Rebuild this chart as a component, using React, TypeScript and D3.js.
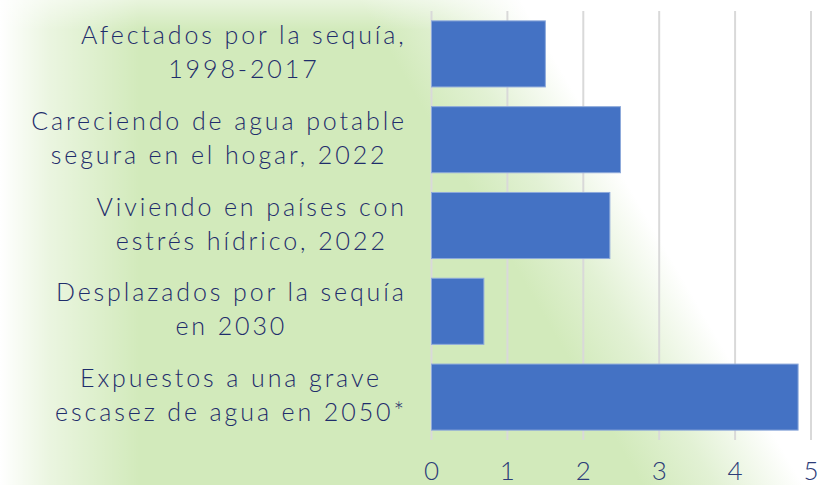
import React from "react";
import * as d3 from "d3";

const categories: string[][] = [
  ["Afectados por la sequía,", "1998-2017"],
  ["Careciendo de agua potable", "segura en el hogar, 2022"],
  ["Viviendo en países con", "estrés hídrico, 2022"],
  ["Desplazados por la sequía", "en 2030"],
  ["Expuestos a una grave", "escasez de agua en 2050*"],
];
const values: number[] = [1.5, 2.49, 2.35, 0.69, 4.83];
const ticks: number[] = [0, 1, 2, 3, 4, 5];

const W = 822;
const H = 485;
const FONT = "Lato, 'Open Sans', sans-serif";
const FS = 25;
const FW = 300;
const LS = 2.9;

function measure(text: string): number {
  if (typeof document === "undefined") return text.length * 14;
  const c = document.createElement("canvas");
  const ctx = c.getContext("2d")!;
  ctx.font = `${FW} ${FS}px Lato`;
  return ctx.measureText(text).width + LS * text.length;
}

export default function App() {
  const x = d3.scaleLinear().domain([0, 5]).range([431.5, 811]);
  const keys = categories.map((_, i) => String(i));
  const y = d3.scaleBand<string>().domain(keys).range([11, 440]).paddingInner(0.23).paddingOuter(0.115);
  const labelRight = 407;
  const lineH = 34;

  return (
    <svg width={W} height={H} style={{ position: "absolute", left: 0, top: 0 }}>
      <defs>
        <linearGradient id="diag" gradientUnits="userSpaceOnUse" x1={520} y1={275} x2={640} y2={205}>
          <stop offset="0" stopColor="#d2eabb" />
          <stop offset="0.45" stopColor="#e2f1d4" />
          <stop offset="1" stopColor="#ffffff" />
        </linearGradient>
        <linearGradient id="leftg" x1={0} y1={0} x2={140} y2={0} gradientUnits="userSpaceOnUse">
          <stop offset="0" stopColor="#ffffff" stopOpacity="1" />
          <stop offset="0.35" stopColor="#ffffff" stopOpacity="0.55" />
          <stop offset="1" stopColor="#ffffff" stopOpacity="0" />
        </linearGradient>
        <linearGradient id="topg" x1={0} y1={0} x2={0} y2={30} gradientUnits="userSpaceOnUse">
          <stop offset="0" stopColor="#ffffff" stopOpacity="0.5" />
          <stop offset="1" stopColor="#ffffff" stopOpacity="0" />
        </linearGradient>
      </defs>
      <rect x={0} y={0} width={W} height={H} fill="url(#diag)" />
      <rect x={0} y={0} width={140} height={H} fill="url(#leftg)" />
      <rect x={0} y={0} width={W} height={30} fill="url(#topg)" />

      {ticks.map((t) => (
        <line key={"g" + t} x1={x(t)} x2={x(t)} y1={11} y2={440} stroke="#d9d9d9" strokeWidth={2} />
      ))}

      {values.map((v, i) => (
        <rect
          key={"b" + i}
          x={x(0)}
          y={y(String(i))!}
          width={x(v) - x(0)}
          height={y.bandwidth()}
          fill="#4472c4"
          stroke="#8eaadb"
          strokeWidth={1}
        />
      ))}

      {categories.map((lines, i) => {
        const cy = y(String(i))! + y.bandwidth() / 2;
        const maxW = Math.max(...lines.map(measure));
        const cx = labelRight - maxW / 2;
        const top = cy - ((lines.length - 1) * lineH) / 2 - 2;
        return (
          <text
            key={"l" + i}
            textAnchor="middle"
            fontFamily={FONT}
            fontSize={FS}
            fontWeight={FW}
            letterSpacing={LS}
            fill="#1f2d6b"
          >
            {lines.map((ln, j) => (
              <tspan key={j} x={cx} y={top + j * lineH} dy="0.36em">
                {ln}
              </tspan>
            ))}
          </text>
        );
      })}

      {ticks.map((t) => (
        <text
          key={"t" + t}
          x={x(t)}
          y={480}
          textAnchor="middle"
          fontFamily={FONT}
          fontSize={26}
          fontWeight={FW}
          fill="#2c3c78"
        >
          {t}
        </text>
      ))}
    </svg>
  );
}
